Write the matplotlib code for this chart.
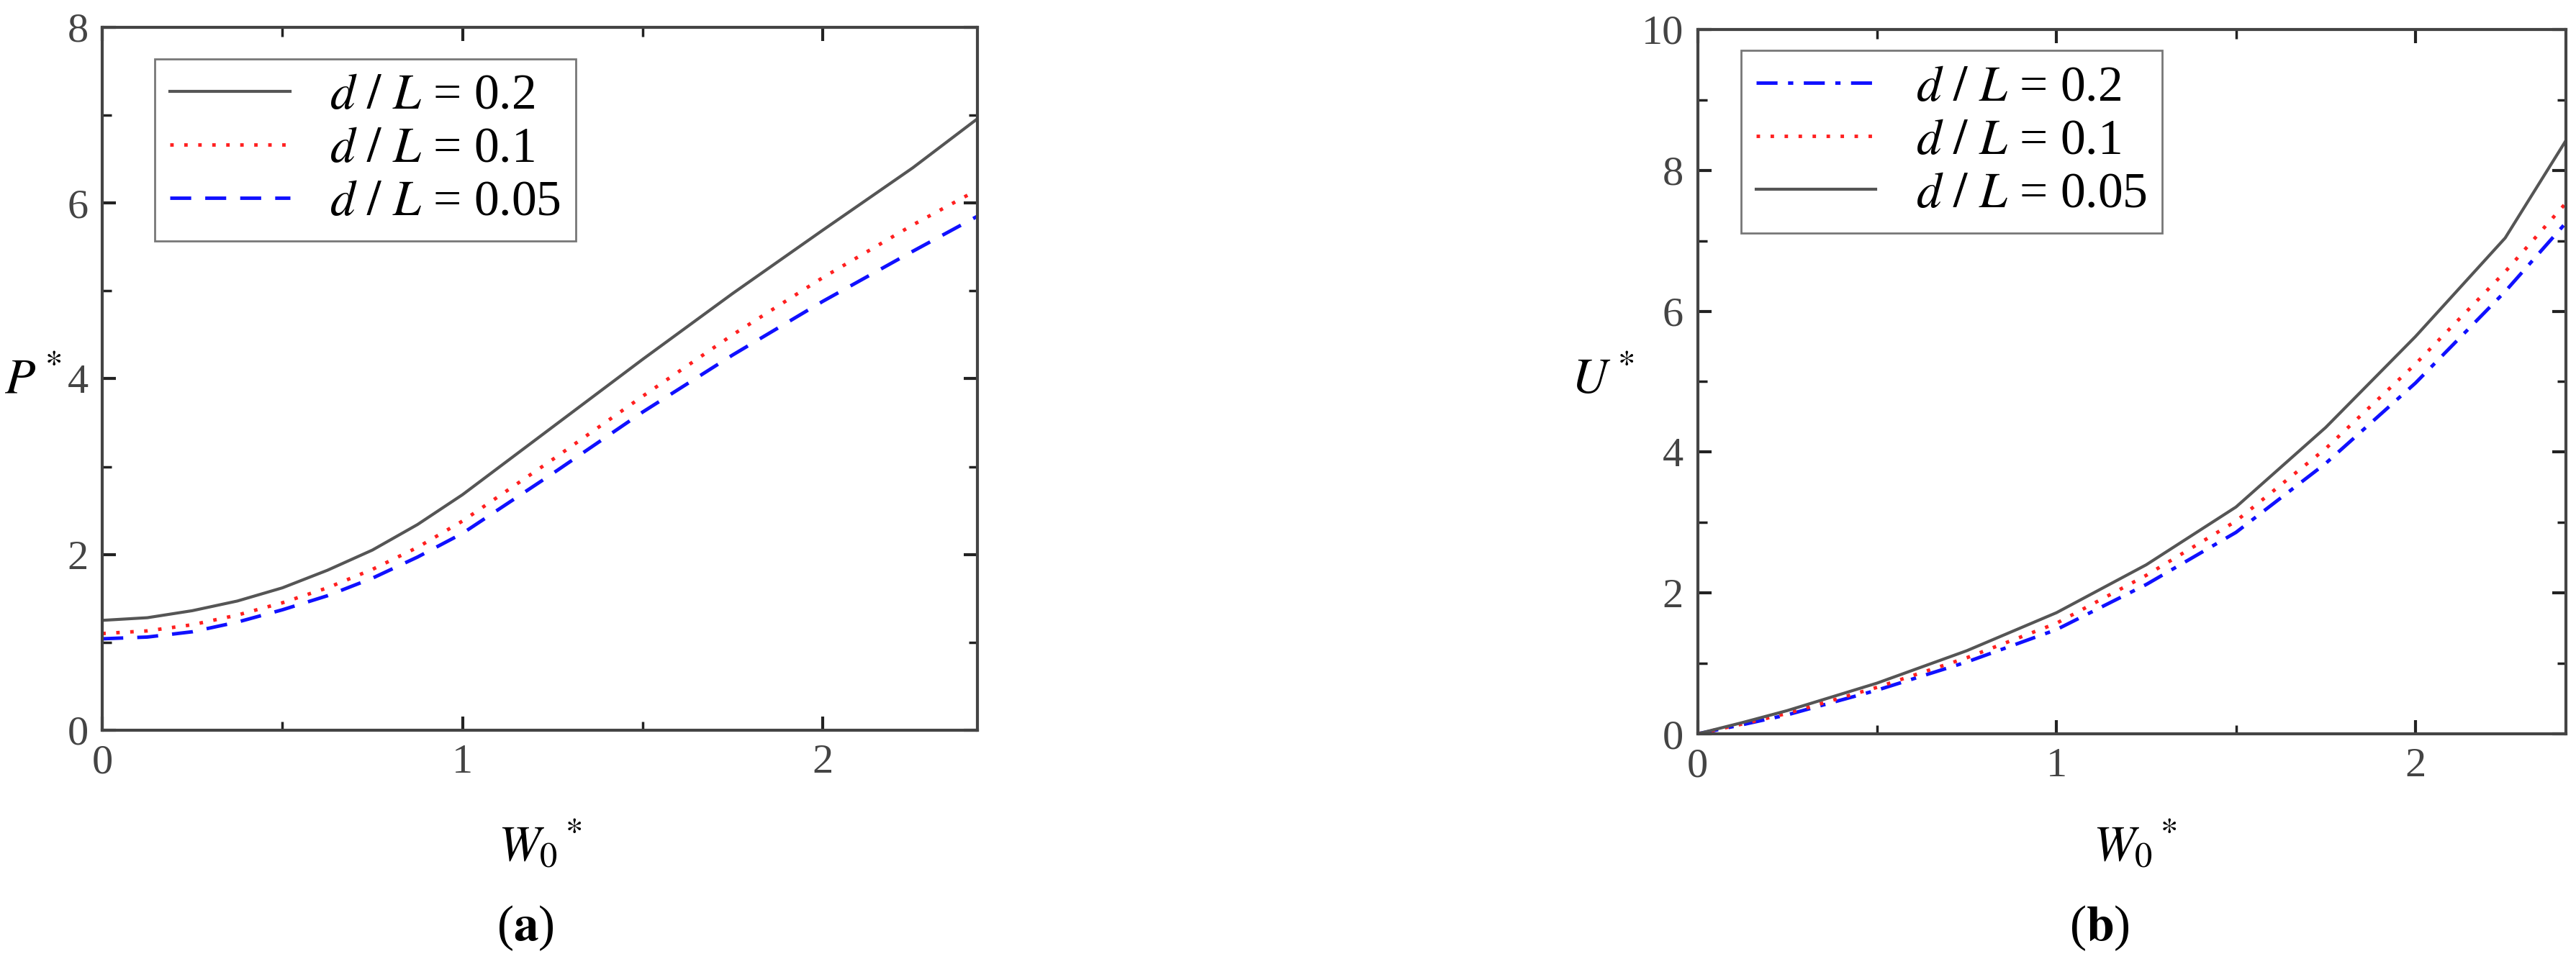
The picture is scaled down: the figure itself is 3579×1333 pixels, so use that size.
import matplotlib
matplotlib.use("Agg")
import matplotlib.pyplot as plt
from matplotlib.ticker import MultipleLocator

plt.rcParams['font.family'] = ['Liberation Serif', 'DejaVu Serif']
plt.rcParams['mathtext.fontset'] = 'stix'

# Panel (a): P* vs W0*
xa = [0, 0.125, 0.25, 0.375, 0.5, 0.625, 0.75, 0.875, 1.0, 1.25, 1.5, 1.75, 2.0, 2.25, 2.43]
pa_02 = [1.25, 1.28, 1.36, 1.47, 1.62, 1.82, 2.05, 2.34, 2.68, 3.45, 4.22, 4.97, 5.69, 6.40, 6.96]
pa_01 = [1.10, 1.13, 1.20, 1.31, 1.45, 1.62, 1.83, 2.08, 2.38, 3.08, 3.80, 4.50, 5.15, 5.75, 6.15]
pa_005 = [1.04, 1.06, 1.12, 1.23, 1.37, 1.53, 1.73, 1.97, 2.24, 2.92, 3.62, 4.27, 4.88, 5.45, 5.85]

# Panel (b): U* vs W0*
xb = [0, 0.125, 0.25, 0.5, 0.75, 1.0, 1.25, 1.5, 1.75, 2.0, 2.25, 2.42]
ub_02 = [0, 0.13, 0.27, 0.62, 1.02, 1.48, 2.12, 2.86, 3.84, 4.98, 6.28, 7.26]
ub_01 = [0, 0.14, 0.29, 0.66, 1.08, 1.57, 2.25, 3.02, 4.05, 5.25, 6.56, 7.54]
ub_005 = [0, 0.16, 0.33, 0.72, 1.18, 1.72, 2.40, 3.22, 4.35, 5.64, 7.04, 8.43]

labels = ['0.2', '0.1', '0.05']

fig = plt.figure(figsize=(35.79, 13.33), dpi=100)
axa = fig.add_axes([0.0397, 0.2386, 0.3398, 0.733])
axb = fig.add_axes([0.659, 0.2348, 0.3372, 0.7345])

def lab(v):
    return r'$d\ /\ L$ = ' + v

axa.plot(xa, pa_02, color='#555555', lw=3, ls='-', label=lab(labels[0]))
axa.plot(xa, pa_01, color='#ff2020', lw=3.5, ls=(0, (1, 3)), label=lab(labels[1]))
axa.plot(xa, pa_005, color='#1010ff', lw=3.5, ls=(0, (6, 4)), label=lab(labels[2]))
axa.set_xlim(0, 2.43); axa.set_ylim(0, 8)
axa.yaxis.set_major_locator(MultipleLocator(2))
axa.yaxis.set_minor_locator(MultipleLocator(1))

axb.plot(xb, ub_02, color='#1010ff', lw=3.5, ls=(0, (6, 3, 1.5, 3)), label=lab(labels[0]))
axb.plot(xb, ub_01, color='#ff2020', lw=3.5, ls=(0, (1, 3)), label=lab(labels[1]))
axb.plot(xb, ub_005, color='#555555', lw=3, ls='-', label=lab(labels[2]))
axb.set_xlim(0, 2.42); axb.set_ylim(0, 10)
axb.yaxis.set_major_locator(MultipleLocator(2))
axb.yaxis.set_minor_locator(MultipleLocator(1))

for ax in (axa, axb):
    ax.xaxis.set_major_locator(MultipleLocator(1))
    ax.xaxis.set_minor_locator(MultipleLocator(0.5))
    ax.tick_params(which='both', direction='in', top=True, right=True,
                   labelsize=42, labelcolor='#444444', pad=14, color='#222222')
    ax.tick_params(which='major', length=14, width=3)
    ax.tick_params(which='minor', length=9, width=2.5)
    for s in ax.spines.values():
        s.set_linewidth(3); s.set_color('#444444')
    leg = ax.legend(loc='upper left', bbox_to_anchor=(0.06, 0.955) if ax is axa else (0.05, 0.97),
                    fontsize=50, frameon=True, fancybox=False, handlelength=2.4,
                    borderaxespad=0, labelspacing=0.15, borderpad=0.3)
    leg.get_frame().set_edgecolor('#555555'); leg.get_frame().set_linewidth(2)

fig.text(46/3579, 1 - 530/1333, r'$P^*$', fontsize=50, ha='center', va='center')
fig.text(2227/3579, 1 - 530/1333, r'$U^*$', fontsize=50, ha='center', va='center')
for xc in (750, 2966):
    fig.text(xc/3579, 1 - 1175/1333, r'$W_0{}^*$', fontsize=50, ha='center', va='center')
fig.text(730/3579, 1 - 1290/1333, r'($\mathbf{a}$)', fontsize=50, ha='center', va='center')
fig.text(2917/3579, 1 - 1290/1333, r'($\mathbf{b}$)', fontsize=50, ha='center', va='center')

fig.savefig('out.png', dpi=100)
